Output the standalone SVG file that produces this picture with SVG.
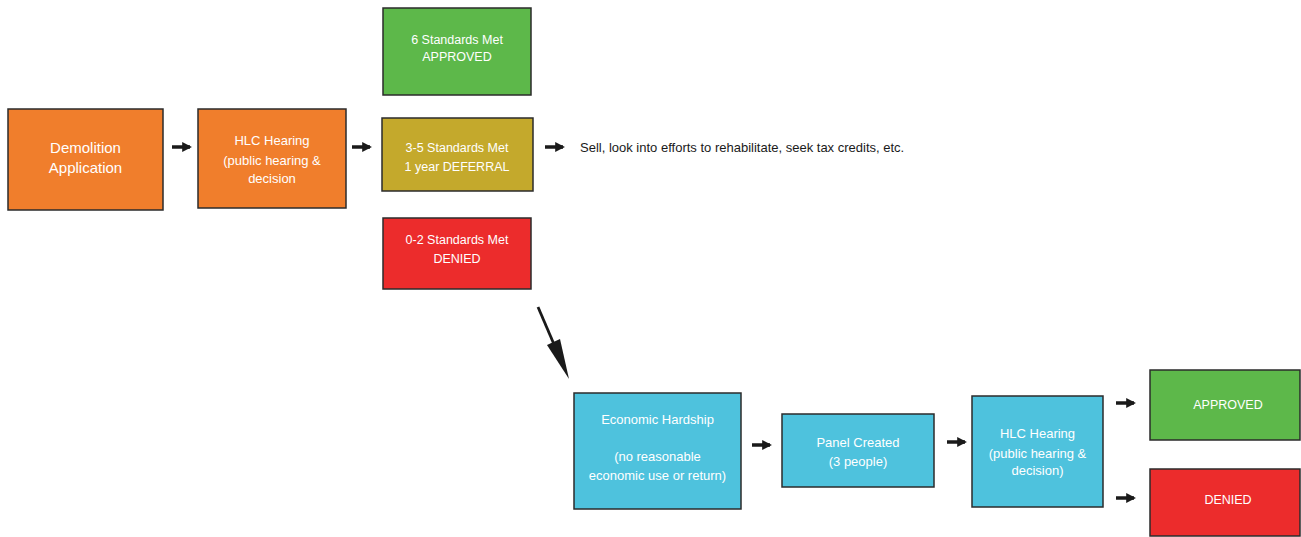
<svg xmlns="http://www.w3.org/2000/svg" width="1301" height="537" viewBox="0 0 1301 537">
<defs>
<style>
.box{stroke:#2b2b2b;stroke-width:1.5}
.orange{fill:#F07E2C}
.green{fill:#5DB84A}
.gold{fill:#C4A92C}
.red{fill:#EC2C2C}
.cyan{fill:#4EC2DD}
.t{font-family:"Liberation Sans",Arial,sans-serif;fill:#ffffff;text-anchor:middle}
.dark{font-family:"Liberation Sans",Arial,sans-serif;fill:#1a1a1a;font-size:13px}
.conn{stroke:#1a1a1a;stroke-width:3.5;fill:none}
</style>
<marker id="ah" viewBox="0 0 10 10" refX="8" refY="5" markerWidth="2.8" markerHeight="3.4" orient="auto" markerUnits="strokeWidth">
<path d="M0,0 L10,5 L0,10 z" fill="#1a1a1a"/>
</marker>
</defs>
<rect width="1301" height="537" fill="#ffffff"/>
<g id="connectors">
<line class="conn" x1="172" y1="147" x2="190" y2="147" marker-end="url(#ah)"/>
<line class="conn" x1="352" y1="147" x2="370" y2="147" marker-end="url(#ah)"/>
<line class="conn" x1="545" y1="147" x2="563" y2="147" marker-end="url(#ah)"/>
<line class="conn" x1="752" y1="445" x2="770" y2="445" marker-end="url(#ah)"/>
<line class="conn" x1="947" y1="442" x2="965" y2="442" marker-end="url(#ah)"/>
<line class="conn" x1="1116" y1="403" x2="1134" y2="403" marker-end="url(#ah)"/>
<line class="conn" x1="1116" y1="498" x2="1134" y2="498" marker-end="url(#ah)"/>
<line x1="538" y1="307" x2="556" y2="349" stroke="#1a1a1a" stroke-width="2.8"/>
<polygon points="569,379 547,345 560,339" fill="#1a1a1a"/>
</g>
<g id="demolition">
<rect class="box orange" x="8" y="109" width="155" height="101"/>
<text class="t" font-size="15" x="85.5" y="153">Demolition</text>
<text class="t" font-size="15" x="85.5" y="173">Application</text>
</g>
<g id="hlc1">
<rect class="box orange" x="198" y="109" width="148" height="99"/>
<text class="t" font-size="13" x="272" y="145">HLC Hearing</text>
<text class="t" font-size="13" x="272" y="165">(public hearing &amp;</text>
<text class="t" font-size="13" x="272" y="183">decision</text>
</g>
<g id="six">
<rect class="box green" x="383" y="8" width="148" height="87"/>
<text class="t" font-size="12.5" x="457" y="44">6 Standards Met</text>
<text class="t" font-size="12.5" x="457" y="61">APPROVED</text>
</g>
<g id="three">
<rect class="box gold" x="382" y="118" width="151" height="73"/>
<text class="t" font-size="12.5" x="457" y="152">3-5 Standards Met</text>
<text class="t" font-size="12.5" x="457" y="171">1 year DEFERRAL</text>
</g>
<g id="zero">
<rect class="box red" x="383" y="218" width="148" height="71"/>
<text class="t" font-size="12.5" x="457" y="244">0-2 Standards Met</text>
<text class="t" font-size="12.5" x="457" y="263">DENIED</text>
</g>
<g id="sell">
<text class="dark" x="580" y="152">Sell, look into efforts to rehabilitate, seek tax credits, etc.</text>
</g>
<g id="hardship">
<rect class="box cyan" x="574" y="393" width="167" height="116"/>
<text class="t" font-size="13" x="657.5" y="424">Economic Hardship</text>
<text class="t" font-size="13" x="657.5" y="461">(no reasonable</text>
<text class="t" font-size="13" x="657.5" y="480">economic use or return)</text>
</g>
<g id="panel">
<rect class="box cyan" x="782" y="414" width="152" height="73"/>
<text class="t" font-size="13" x="858" y="447">Panel Created</text>
<text class="t" font-size="13" x="858" y="466">(3 people)</text>
</g>
<g id="hlc2">
<rect class="box cyan" x="972" y="396" width="131" height="111"/>
<text class="t" font-size="13" x="1037.5" y="438">HLC Hearing</text>
<text class="t" font-size="13" x="1037.5" y="458">(public hearing &amp;</text>
<text class="t" font-size="13" x="1037.5" y="475">decision)</text>
</g>
<g id="approved">
<rect class="box green" x="1150" y="370" width="150" height="70"/>
<text class="t" font-size="12.5" x="1228" y="409">APPROVED</text>
</g>
<g id="denied">
<rect class="box red" x="1150" y="469" width="150" height="67"/>
<text class="t" font-size="12.5" x="1228" y="504">DENIED</text>
</g>
</svg>
